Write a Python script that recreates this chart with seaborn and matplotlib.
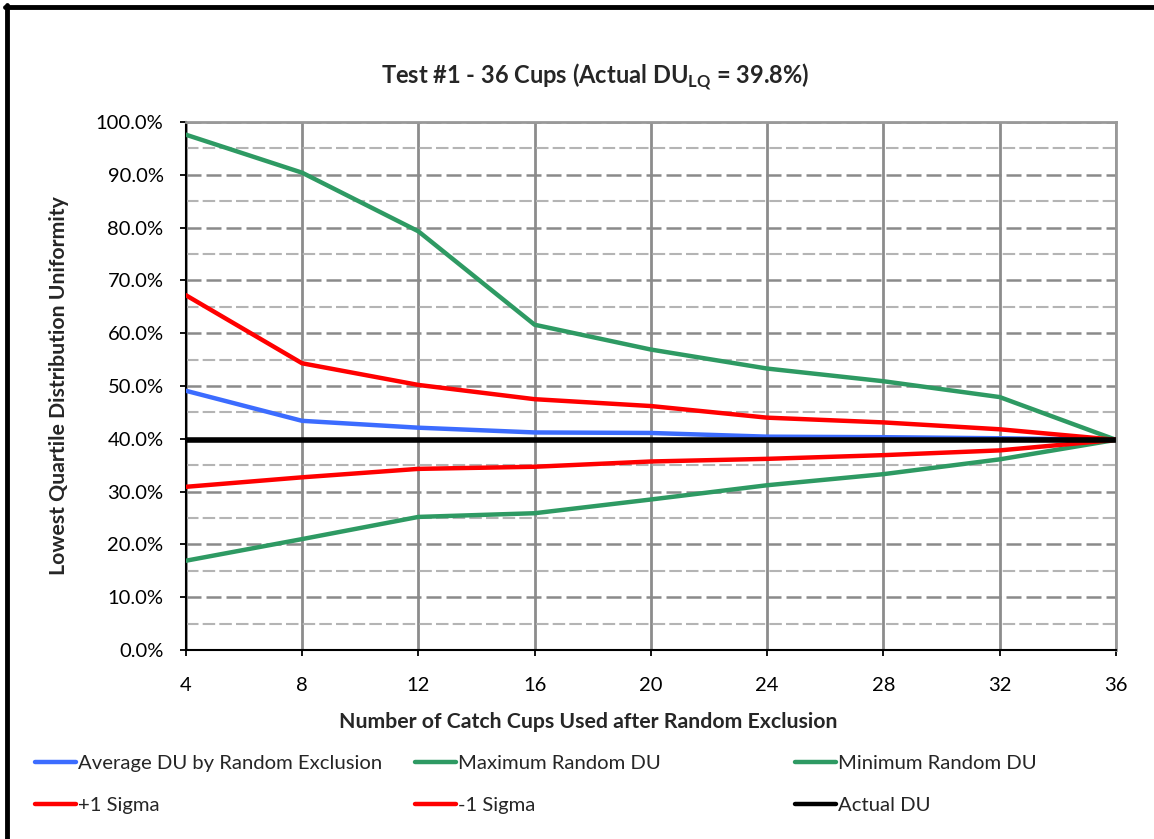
import pandas as pd
import seaborn as sns
import matplotlib.pyplot as plt
from matplotlib.lines import Line2D
from matplotlib.ticker import MultipleLocator, PercentFormatter

# values (percent)
cups = [4, 8, 12, 16, 20, 24, 28, 32, 36]
avg_du = [49.1, 43.4, 42.1, 41.2, 41.1, 40.4, 40.3, 40.1, 39.8]
max_du = [97.6, 90.4, 79.3, 61.6, 56.9, 53.3, 50.9, 47.9, 39.8]
min_du = [16.9, 21.0, 25.2, 25.9, 28.5, 31.2, 33.3, 36.1, 39.8]
plus_sigma = [67.2, 54.3, 50.2, 47.5, 46.2, 44.0, 43.1, 41.8, 39.8]
minus_sigma = [30.9, 32.7, 34.3, 34.7, 35.7, 36.2, 36.9, 37.8, 39.8]
actual_du = [39.8] * 9

series_names = ["Average DU by Random Exclusion", "Maximum Random DU", "Minimum Random DU",
                "+1 Sigma", "-1 Sigma", "Actual DU"]
series_vals = [avg_du, max_du, min_du, plus_sigma, minus_sigma, actual_du]
colors = ["#3c6cff", "#2e9a63", "#2e9a63", "#ff0000", "#ff0000", "#000000"]

df = pd.concat(
    [pd.DataFrame({"cups": cups, "du": v, "series": n}) for n, v in zip(series_names, series_vals)],
    ignore_index=True)

sns.set_style("ticks")
plt.rcParams["font.family"] = ["Lato", "DejaVu Sans"]
plt.rcParams["mathtext.fontset"] = "custom"
plt.rcParams["mathtext.rm"] = "Lato"
plt.rcParams["mathtext.bf"] = "Lato:bold"

fig = plt.figure(figsize=(11.54, 8.39), dpi=100)
ax = fig.add_axes([0.161, 0.2253, 0.967 - 0.161, 0.8546 - 0.2253])

palette = dict(zip(series_names, colors))
sns.lineplot(data=df, x="cups", y="du", hue="series", hue_order=series_names,
             palette=palette, linewidth=3.2, legend=False, ax=ax, zorder=3)
ax.lines[-1].set_linewidth(4)

ax.set_xlim(4, 36)
ax.set_ylim(0, 100)
ax.xaxis.set_major_locator(MultipleLocator(4))
ax.yaxis.set_major_locator(MultipleLocator(10))
ax.yaxis.set_minor_locator(MultipleLocator(5))
ax.yaxis.set_major_formatter(PercentFormatter(decimals=1))

ax.grid(axis="y", which="major", color="#8a8a8a", linewidth=1.8, linestyle=(0, (6, 2)))
ax.grid(axis="y", which="minor", color="#b4b4b4", linewidth=1.5, linestyle=(0, (6, 2)))
ax.grid(axis="x", which="major", color="#8c8c8c", linewidth=2, linestyle="-")
ax.set_axisbelow(True)

for s in ["left", "bottom"]:
    ax.spines[s].set_color("black")
    ax.spines[s].set_linewidth(1.5)
for s in ["top", "right"]:
    ax.spines[s].set_visible(True)
    ax.spines[s].set_color("#999999")
    ax.spines[s].set_linewidth(2)

ax.tick_params(axis="y", which="major", length=4.5, width=1.3, labelsize=14.5, pad=11.5, colors="black")
ax.tick_params(axis="y", which="minor", length=0)
ax.tick_params(axis="x", length=4.5, width=1.3, labelsize=14.5, pad=15, colors="black")

fig.text(0.516, 0.901, r"Test #1 - 36 Cups (Actual DU$_{\mathbf{LQ}}$ = 39.8%)",
         fontsize=17, fontweight="bold", ha="center", va="baseline")
ax.set_xlabel("Number of Catch Cups Used after Random Exclusion", fontsize=15.3,
              fontweight="bold")
ax.xaxis.set_label_coords(0.433, -0.117)
ax.set_ylabel("Lowest Quartile Distribution Uniformity", fontsize=15.3,
              fontweight="bold")
ax.yaxis.set_label_coords(-0.126, 0.5)

# legend laid out like the Excel one: three columns at fixed positions
col_x = [0.0303, 0.3596, 0.689]
for i, x0 in enumerate(col_x):
    names = [series_names[i], series_names[i + 3]]
    handles = [Line2D([0], [0], color=palette[n], linewidth=3.2) for n in names]
    fig.legend(handles, names, loc="upper left", bbox_to_anchor=(x0, 0.1),
               frameon=False, fontsize=14.6, handlelength=2.0, handletextpad=0.12,
               labelspacing=1.22, borderpad=0, borderaxespad=0)

# outer frame of the chart object
fig.add_artist(Line2D([0.006, 0.006], [0, 0.994], transform=fig.transFigure,
                      color="black", linewidth=3.5))
fig.add_artist(Line2D([0.004, 1], [0.992, 0.992], transform=fig.transFigure,
                      color="black", linewidth=3.5))

fig.savefig("out.png", dpi=100)
